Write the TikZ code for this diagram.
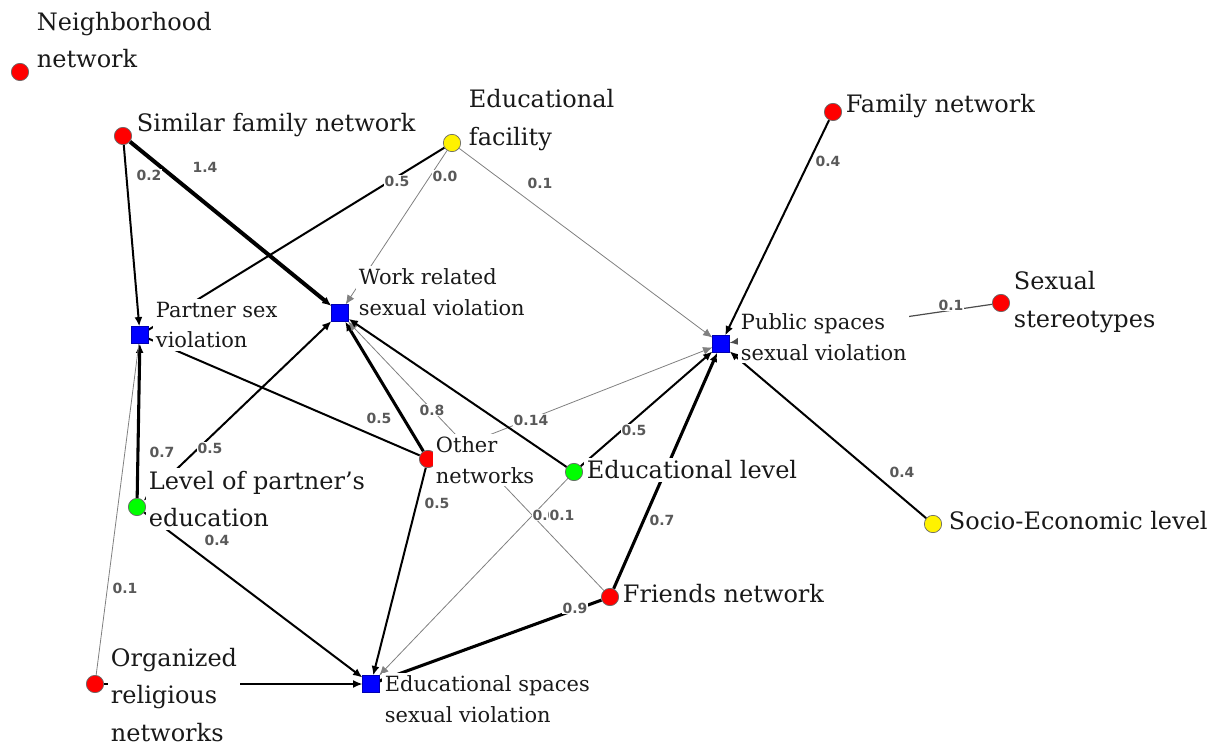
\documentclass[tikz,border=0pt]{standalone}
\usepackage{fontspec}
\setmainfont{DejaVu Serif}
\newfontfamily\edgefont{DejaVu Sans}
\usetikzlibrary{arrows.meta}
\pgfdeclarelayer{edgelayer}
\pgfsetlayers{edgelayer,main}
\begin{document}
\begin{tikzpicture}[x=0.75pt,y=-0.75pt,
  dot/.style={circle,draw=black!60,line width=0.5pt,inner sep=0pt,minimum size=13pt},
  rdot/.style={dot,fill=red},
  ydot/.style={dot,fill=yellow},
  gdot/.style={dot,fill=green},
  sq/.style={rectangle,fill=blue,draw=blue!70!black,line width=0.4pt,inner sep=0pt,minimum size=12.5pt},
  big/.style={font=\fontsize{18}{28}\selectfont,align=left,anchor=west,fill=white,inner sep=2pt,text=black!90},
  small/.style={font=\fontsize{15.7}{23}\selectfont,align=left,anchor=west,fill=white,inner sep=2pt,text=black!90},
  el/.style={font=\edgefont\bfseries\fontsize{10.5}{12}\selectfont,text=black!65,fill=white,inner sep=0.6pt},
  thin/.style={line width=0.6pt,draw=black!50},
  med/.style={line width=1.5pt,draw=black},
  hv/.style={line width=2.3pt,draw=black},
  vhv/.style={line width=3pt,draw=black},
  arr/.style={-{Latex[length=7pt,width=6pt]}},
  barr/.style={{Latex[length=7pt,width=6pt]}-{Latex[length=7pt,width=6pt]}},
]
\useasboundingbox (0,0) rectangle (1218,745);

% ---- nodes (markers)
\node[rdot] (NB) at (20,72) {};
\node[rdot] (SF) at (123,136) {};
\node[ydot] (EF) at (452,143) {};
\node[rdot] (FN) at (833,112) {};
\node[sq]   (WR) at (340,313) {};
\node[sq]   (PS) at (140,335) {};
\node[sq]   (PU) at (721,344) {};
\node[rdot] (SS) at (1001,303) {};
\node[rdot] (ON) at (428,459) {};
\node[gdot] (EL) at (574,472) {};
\node[gdot] (LP) at (137,507) {};
\node[ydot] (SE) at (933,524) {};
\node[rdot] (FR) at (610,597) {};
\node[rdot] (OR) at (95,684) {};
\node[sq]   (ES) at (371,684) {};

% ---- edges
\begin{pgfonlayer}{edgelayer}
\draw[med,arr] (SF) -- (PS);
\draw[vhv,arr] (SF) -- (WR);
\draw[med] (EF) -- (PS);
\draw[thin,arr] (EF) -- (WR);
\draw[thin,arr] (EF) -- (PU);
\draw[med,arr] (FN) -- (PU);
\draw[line width=0.9pt,draw=black!70,arr] (SS) -- (PU);
\draw[med,arr] (SE) -- (PU);
\draw[hv,arr] (LP) -- (PS);
\draw[med,barr] (LP) -- (WR);
\draw[med] (PS) -- (ON);
\draw[hv,arr] (ON) -- (WR);
\draw[thin,arr] (FR) -- (WR);
\draw[thin,arr] (ON) -- (PU);
\draw[med,arr] (EL) -- (PU);
\draw[hv,arr] (FR) -- (PU);
\draw[med,arr] (ON) -- (ES);
\draw[thin,arr] (EL) -- (ES);
\draw[med,arr] (LP) -- (ES);
\draw[line width=1.1pt,arr] (OR) -- (ES);
\draw[thin] (OR) -- (PS);
\draw[hv] (FR) -- (ES);
\end{pgfonlayer}

% ---- node labels
\node[big] (lNB) at (34,40) {Neighborhood\\network};
\node[big] (lSF) at (134,125) {Similar family network};
\node[big] (lEF) at (466,120) {Educational\\facility};
\node[big] (lFN) at (843,106) {Family network};
\node[small] (lWR) at (356,292) {Work related\\sexual violation};
\node[small] (lPS) at (153,325) {Partner sex\\violation};
\node[small] (lPU) at (738,337) {Public spaces\\sexual violation};
\node[big] (lSS) at (1011,302) {Sexual\\stereotypes};
\node[small] (lON) at (433,460) {Other\\networks};
\node[big] (lEL) at (584,470) {Educational level};
\node[big] (lLP) at (146,499) {Level of partner’s\\education};
\node[big] (lSE) at (946,521) {Socio-Economic level};
\node[big] (lFR) at (620,594) {Friends network};
\node[big] (lOR) at (108,695) {Organized\\religious\\networks};
\node[small] (lES) at (382,699) {Educational spaces\\sexual violation};

% edge that runs past the "Other networks" label unmasked
\draw[med,arr] (EL) -- (WR);

% ---- edge labels
\node[el] (w1) at (149,175) {0.2};
\node[el] (w2) at (205,167) {1.4};
\node[el] (w3) at (397,181) {0.5};
\node[el] (w4) at (445,176) {0.0};
\node[el] (w5) at (540,183) {0.1};
\node[el] (w6) at (828,161) {0.4};
\node[el] (w7) at (951,305) {0.1};
\node[el] (w8) at (902,472) {0.4};
\node[el] (w9) at (162,452) {0.7};
\node[el] (w10) at (210,448) {0.5};
\node[el] (w11) at (379,418) {0.5};
\node[el] (w12) at (432,410) {0.8};
\node[el] (w13) at (531,420) {0.14};
\node[el] (w14) at (634,430) {0.5};
\node[el] (w15) at (437,503) {0.5};
\node[el] (w16) at (545,515) {0.0};
\node[el] (w17) at (562,515) {0.1};
\node[el] (w18) at (662,520) {0.7};
\node[el] (w19) at (575,608) {0.9};
\node[el] (w20) at (217,540) {0.4};
\node[el] (w21) at (125,588) {0.1};
\end{tikzpicture}
\end{document}
